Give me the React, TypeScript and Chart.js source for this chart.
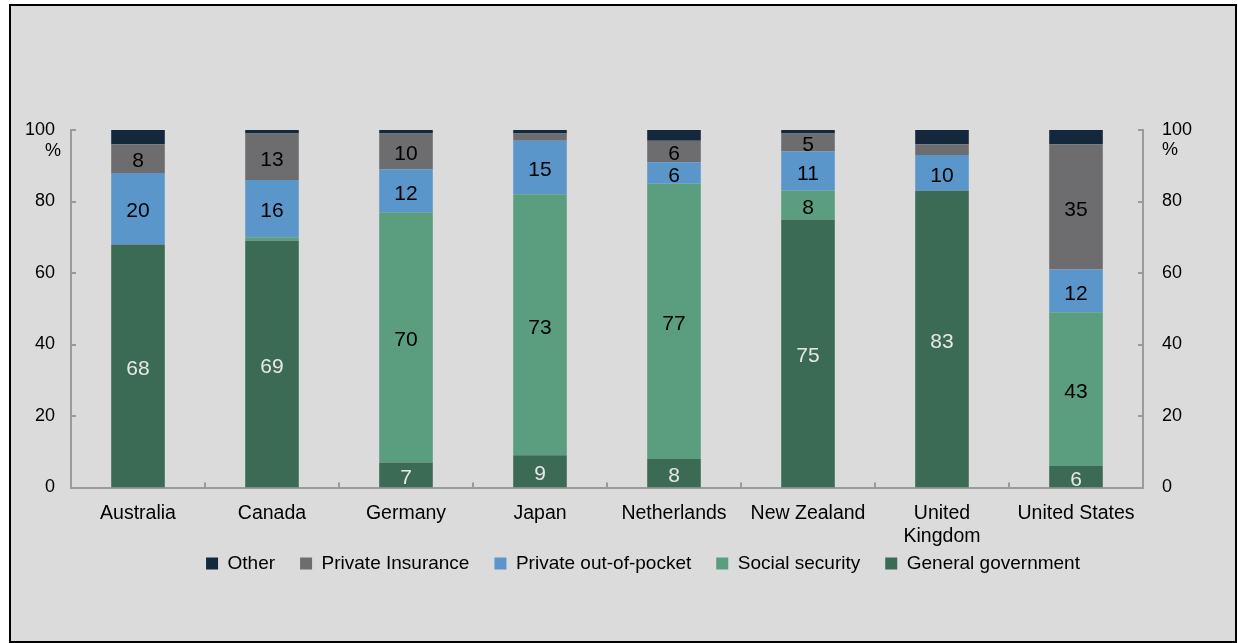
import React, { useEffect, useRef } from "react";
import { Chart, registerables } from "chart.js";

Chart.register(...registerables);

const categories: (string | string[])[] = [
  "Australia",
  "Canada",
  "Germany",
  "Japan",
  "Netherlands",
  "New Zealand",
  ["United", "Kingdom"],
  "United States",
];

const generalGovernment = [68, 69, 7, 9, 8, 75, 83, 6];
const socialSecurity = [0, 1, 70, 73, 77, 8, 0, 43];
const privateOutOfPocket = [20, 16, 12, 15, 6, 11, 10, 12];
const privateInsurance = [8, 13, 10, 2, 6, 5, 3, 35];
const other = [4, 1, 1, 1, 3, 1, 4, 4];

const yTicks = [0, 20, 40, 60, 80, 100];
const percentLabel = "%";

const FONT = '"Liberation Sans", Arial, sans-serif';

const valueLabels = {
  id: "valueLabels",
  afterDatasetsDraw(chart: any) {
    const ctx = chart.ctx;
    ctx.save();
    ctx.font = `21px ${FONT}`;
    ctx.textAlign = "center";
    ctx.textBaseline = "middle";
    chart.data.datasets.forEach((ds: any, di: number) => {
      const meta = chart.getDatasetMeta(di);
      meta.data.forEach((bar: any, i: number) => {
        const v = ds.data[i];
        if (v < 5) return;
        const y = (bar.y + bar.base) / 2;
        ctx.fillStyle = ds.labelColor;
        ctx.fillText(String(v), bar.x, y + 3);
      });
    });
    ctx.restore();
  },
};

const innerTicks = {
  id: "innerTicks",
  afterDraw(chart: any) {
    const ctx = chart.ctx;
    const { left, right, bottom } = chart.chartArea;
    const y = chart.scales.y;
    const x = chart.scales.x;
    ctx.save();
    ctx.strokeStyle = "#9a9a9a";
    ctx.lineWidth = 2;
    ctx.beginPath();
    yTicks.forEach((t) => {
      const py = Math.round(y.getPixelForValue(t));
      ctx.moveTo(left, py);
      ctx.lineTo(left + 5, py);
      ctx.moveTo(right - 5, py);
      ctx.lineTo(right, py);
    });
    for (let i = 1; i < categories.length; i++) {
      const px = Math.round((x.getPixelForTick(i - 1) + x.getPixelForTick(i)) / 2);
      ctx.moveTo(px, bottom);
      ctx.lineTo(px, bottom - 5);
    }
    ctx.stroke();
    // percent signs under 100
    ctx.fillStyle = "#000";
    ctx.font = `18px ${FONT}`;
    ctx.textBaseline = "middle";
    ctx.textAlign = "left";
    const p100 = y.getPixelForValue(100);
    ctx.fillText(percentLabel, left - 26, p100 + 21);
    ctx.fillText(percentLabel, right + 19, p100 + 20);
    ctx.restore();
  },
};

export default function App() {
  const ref = useRef<HTMLCanvasElement | null>(null);

  useEffect(() => {
    if (!ref.current) return;
    const chart = new Chart(ref.current, {
      type: "bar",
      data: {
        labels: categories as any,
        datasets: [
          { label: "General government", data: generalGovernment, backgroundColor: "#3c6b55", labelColor: "#e8e8e8" } as any,
          { label: "Social security", data: socialSecurity, backgroundColor: "#5b9e7f", labelColor: "#000" } as any,
          { label: "Private out-of-pocket", data: privateOutOfPocket, backgroundColor: "#5b96cb", labelColor: "#000" } as any,
          { label: "Private Insurance", data: privateInsurance, backgroundColor: "#6d6d6f", labelColor: "#000" } as any,
          { label: "Other", data: other, backgroundColor: "#13283d", labelColor: "#fff" } as any,
        ].map((d: any) => ({ ...d, barPercentage: 0.4, categoryPercentage: 1, borderWidth: 0 })),
      },
      options: {
        animation: false,
        responsive: true,
        maintainAspectRatio: false,
        layout: { padding: { top: 124, bottom: 58, left: 40, right: 0 } },
        plugins: {
          legend: {
            position: "bottom",
            reverse: true,
            labels: {
              boxWidth: 12,
              boxHeight: 12,
              padding: 25,
              color: "#000",
              font: { size: 19, family: FONT },
            },
          },
          tooltip: { enabled: false },
        },
        scales: {
          x: {
            stacked: true,
            grid: { display: false, drawTicks: false },
            border: { display: true, color: "#9a9a9a", width: 2 },
            ticks: { color: "#000", font: { size: 19.5, family: FONT }, padding: 14, maxRotation: 0, autoSkip: false },
            afterFit: (s: any) => {
              s.height = 41.5;
              s._computeLabelArea = () => undefined;
            },
          },
          y: {
            stacked: true,
            position: "left",
            min: 0,
            max: 100,
            grid: { display: false, drawTicks: false },
            border: { display: true, color: "#9a9a9a", width: 2 },
            ticks: { stepSize: 20, color: "#000", font: { size: 18, family: FONT }, padding: 16 },
            afterFit: (s: any) => {
              s.width = 20;
              s._computeLabelArea = () => undefined;
            },
          },
          y2: {
            position: "right",
            min: 0,
            max: 100,
            grid: { display: false, drawTicks: false },
            border: { display: true, color: "#9a9a9a", width: 2 },
            ticks: { stepSize: 20, color: "#000", font: { size: 18, family: FONT }, padding: 19 },
            afterFit: (s: any) => { s.width = 92; },
          },
        },
      },
      plugins: [valueLabels, innerTicks],
    });
    return () => chart.destroy();
  }, []);

  return (
    <div
      style={{
        position: "absolute",
        left: 9,
        top: 4,
        width: 1228,
        height: 639,
        border: "2px solid #000",
        boxSizing: "border-box",
        background: "#dbdbdb",
      }}
    >
      <canvas ref={ref} />
    </div>
  );
}
